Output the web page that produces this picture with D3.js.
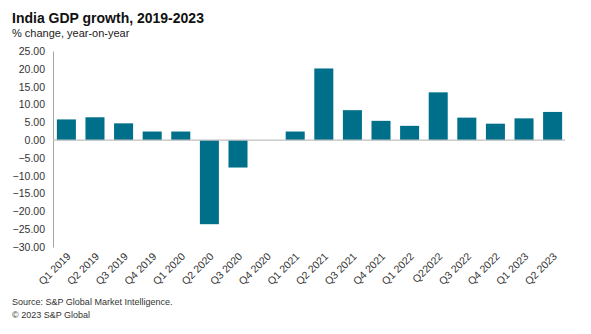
<!DOCTYPE html>
<html>
<head>
<meta charset="utf-8">
<script src="https://cdn.jsdelivr.net/npm/d3@7"></script>
<style>
  body { margin: 0; background: #fff; }
  svg { display: block; font-family: "Liberation Sans", Arial, sans-serif; }
</style>
</head>
<body>
<div id="chart"></div>
<script>
// quarterly GDP growth, % y/y
var quarters = ["Q1 2019", "Q2 2019", "Q3 2019", "Q4 2019", "Q1 2020", "Q2 2020",
  "Q3 2020", "Q4 2020", "Q1 2021", "Q2 2021", "Q3 2021", "Q4 2021", "Q1 2022",
  "Q22022", "Q3 2022", "Q4 2022", "Q1 2023", "Q2 2023"];
var growth = [5.8, 6.4, 4.7, 2.4, 2.4, -23.6, -7.7, 0, 2.4, 20.1, 8.4, 5.4, 4.0,
  13.4, 6.3, 4.6, 6.1, 7.9];
var yTicks = [25, 20, 15, 10, 5, 0, -5, -10, -15, -20, -25, -30];

var width = 591, height = 334;

var svg = d3.select("#chart").append("svg")
  .attr("width", width)
  .attr("height", height);

svg.append("text")
  .attr("x", 12).attr("y", 22.5)
  .attr("font-size", 14).attr("font-weight", "bold").attr("fill", "#111")
  .text("India GDP growth, 2019-2023");
svg.append("text")
  .attr("x", 12).attr("y", 36.5)
  .attr("font-size", 11).attr("fill", "#222")
  .text("% change, year-on-year");

var x = d3.scaleBand()
  .domain(quarters)
  .range([52, 567])
  .paddingInner(0.335)
  .paddingOuter(0.17);

var y = d3.scaleLinear()
  .domain([-30, 25])
  .range([247, 51]);

// y axis
var yAxis = svg.append("g")
  .attr("transform", "translate(53,0)")
  .call(d3.axisLeft(y).tickValues(yTicks).tickSize(0).tickPadding(8)
    .tickFormat(d3.format(".2f")));
yAxis.select(".domain").attr("stroke", "#a6a6a6");
yAxis.selectAll("text")
  .attr("font-size", 10.5).attr("fill", "#333")
  .attr("font-family", "Liberation Sans, Arial, sans-serif");

// bars
svg.selectAll("rect.bar")
  .data(growth)
  .enter().append("rect")
    .attr("class", "bar")
    .attr("x", function(d, i) { return x(quarters[i]); })
    .attr("width", x.bandwidth())
    .attr("y", function(d) { return y(Math.max(0, d)); })
    .attr("height", function(d) { return Math.abs(y(d) - y(0)); })
    .attr("fill", "#006f8a");

// zero line
svg.append("line")
  .attr("x1", 53).attr("x2", 565)
  .attr("y1", y(0)).attr("y2", y(0))
  .attr("stroke", "#bfbfbf").attr("stroke-width", 1.2);

// rotated quarter labels
svg.selectAll("text.qlab")
  .data(quarters)
  .enter().append("text")
    .attr("class", "qlab")
    .attr("transform", function(d) {
      return "translate(" + (x(d) + x.bandwidth() / 2 + 5) + ",257) rotate(-45)";
    })
    .attr("text-anchor", "end")
    .attr("font-size", 10.5).attr("fill", "#333")
    .text(function(d) { return d; });

svg.append("text")
  .attr("x", 12).attr("y", 305)
  .attr("font-size", 9).attr("fill", "#333")
  .text("Source: S&P Global Market Intelligence.");
svg.append("text")
  .attr("x", 12).attr("y", 317.5)
  .attr("font-size", 9).attr("fill", "#333")
  .text("© 2023 S&P Global");
</script>
</body>
</html>
